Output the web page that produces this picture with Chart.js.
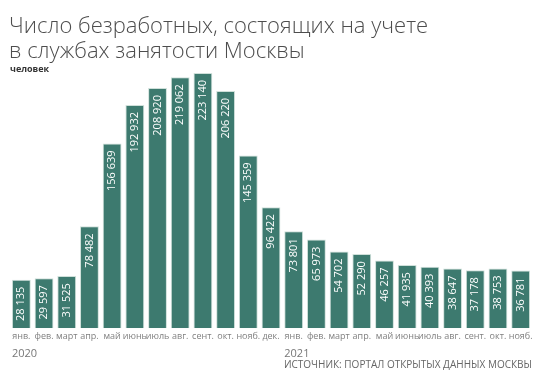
<!DOCTYPE html>
<html><head><meta charset="utf-8">
<script src="https://cdn.jsdelivr.net/npm/chart.js@4"></script>
<style>html,body{margin:0;padding:0;background:#fff}#wrap{width:540px;height:380px}</style>
</head><body><div id="wrap"><canvas id="c" width="540" height="380"></canvas></div>
<script>
const months = ["янв.","фев.","март","апр.","май","июнь","июль","авг.","сент.","окт.","нояб.","дек.",
                "янв.","фев.","март","апр.","май","июнь","июль","авг.","сент.","окт.","нояб."];
const years = {0:"2020", 12:"2021"};
const values = [28135,29597,31525,78482,156639,192932,208920,219062,223140,206220,145359,96422,
                73801,65973,54702,52290,46257,41935,40393,38647,37178,38753,36781];
const titleLines = ["Число безработных, состоящих на учете","в службах занятости Москвы"];
const unitText = "человек";
const sourceText = "ИСТОЧНИК: ПОРТАЛ ОТКРЫТЫХ ДАННЫХ МОСКВЫ";

const fmt = v => String(v).replace(/\B(?=(\d{3})+(?!\d))/g, "\u00a0");

const extras = {
  id:'extras',
  afterDatasetsDraw(chart){
    const ctx = chart.ctx;
    const meta = chart.getDatasetMeta(0);
    ctx.save();
    // value labels inside bars
    ctx.fillStyle = '#ffffff';
    ctx.font = '11px "Open Sans", sans-serif';
    ctx.textAlign = 'right';
    ctx.textBaseline = 'middle';
    meta.data.forEach((bar,i)=>{
      ctx.save();
      ctx.translate(bar.x, bar.y + 7);
      ctx.rotate(-Math.PI/2);
      ctx.fillText(fmt(values[i]), 0, 0);
      ctx.restore();
    });
    // year labels
    ctx.fillStyle = '#777';
    ctx.font = '11px "Open Sans", sans-serif';
    ctx.textAlign = 'left';
    ctx.textBaseline = 'alphabetic';
    Object.keys(years).forEach(k=>{
      const bar = meta.data[+k];
      ctx.fillText(years[k], bar.x - bar.width/2, 357);
    });
    // title
    ctx.fillStyle = '#4d4d4d';
    ctx.font = '300 22px "Open Sans", sans-serif';
    ctx.fillText(titleLines[0], 9, 33);
    ctx.fillText(titleLines[1], 9, 58);
    ctx.fillStyle = '#333';
    ctx.font = 'bold 9px "Open Sans", sans-serif';
    ctx.fillText(unitText, 10, 72);
    ctx.restore();
  }
};

new Chart(document.getElementById('c'), {
  type:'bar',
  data:{labels:months, datasets:[{data:values, backgroundColor:'#3d7a6f', borderColor:'#cfe0da', borderWidth:1,
        base:-17600, barPercentage:0.83, categoryPercentage:1}]},
  options:{
    responsive:false, animation:false,
    layout:{padding:{left:10,right:8,top:73,bottom:0}},
    plugins:{ legend:{display:false}, tooltip:{enabled:false} },
    scales:{
      x:{grid:{display:false, drawTicks:false}, border:{display:false},
         ticks:{color:'#808080', font:{family:'"Open Sans", sans-serif', size:9}, maxRotation:0, autoSkip:false, padding:3},
         title:{display:true, text:sourceText, align:'end', color:'#666', padding:{top:14,bottom:9},
           font:{family:'"Open Sans", sans-serif', size:10}}},
      y:{display:false, min:-17600, max:223140}
    }
  },
  plugins:[extras]
});
</script></body></html>
